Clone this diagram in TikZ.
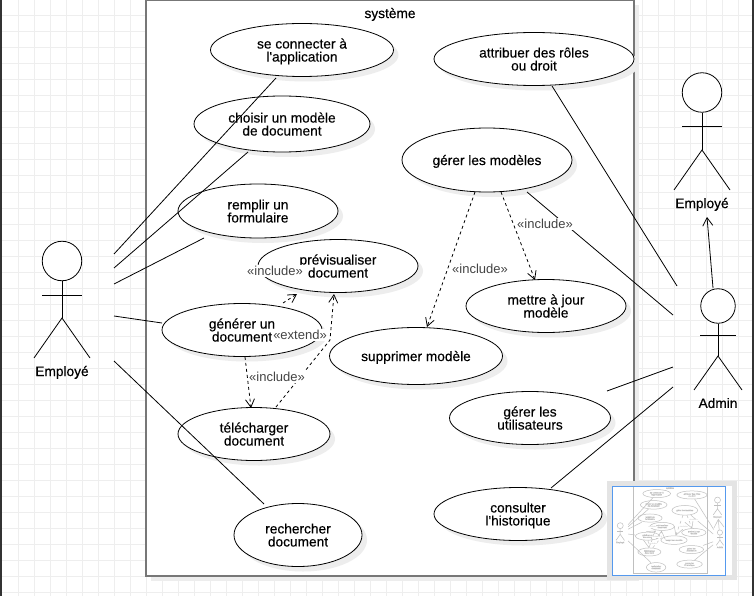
\documentclass[tikz,border=0pt]{standalone}
\usepackage{fontspec}
\setmainfont{Liberation Sans}
\newfontfamily\casefont{Liberation Sans}[FakeBold=0.35]
\usetikzlibrary{shapes, positioning, shadows, arrows.meta}

\definecolor{gridgray}{HTML}{EEEEEE}
\definecolor{boxgray}{HTML}{777777}
\definecolor{labelgray}{HTML}{444444}
\definecolor{thumbblue}{HTML}{5599EE}
\definecolor{panelgray}{HTML}{E4E4E4}
\colorlet{inkcolor}{black}
\colorlet{boxcolor}{boxgray}
\colorlet{tagcolor}{labelgray}
\newcommand{\linew}{0.8pt}
\newcommand{\boxw}{2pt}

\tikzset{
    softshadow/.style={drop shadow={shadow xshift=5pt, shadow yshift=-5pt, opacity=1, fill=black!7}},
    usecase/.style={ellipse, draw=inkcolor, fill=white, inner sep=0pt, align=center, line width=\linew,
        text=inkcolor, text depth=0pt, font=\casefont\fontsize{13.7}{13}\selectfont, softshadow},
    sysbox/.style={draw=boxcolor, fill=white, line width=\boxw, outer sep=0pt, softshadow},
    head/.style={circle, draw=inkcolor, fill=white, inner sep=0pt, line width=\linew},
    limb/.style={draw=inkcolor, line width=\linew},
    assoc/.style={draw=inkcolor, line width=\linew},
    dep/.style={draw=inkcolor, dashed, line width=\linew, -{Straight Barb[length=8pt, width=9pt]}},
    deplabel/.style={fill=white, inner xsep=0.5pt, inner ysep=1.5pt, text=tagcolor, font=\fontsize{13}{13}\selectfont},
    actorname/.style={text=inkcolor, inner sep=0pt, text depth=0pt, font=\casefont\fontsize{13.7}{13}\selectfont},
    gridline/.style={gridgray, line width=1pt},
}

% the whole sheet, drawn once full size and once in the small overview
\newcommand{\usecasesheet}{%
    \node[sysbox, minimum width=488pt, minimum height=575.5pt, anchor=north west, inner sep=0pt] (sys) at (146, 0) {};
    \node[actorname] (systitle) at (390, 13) {système};

    \node[usecase, minimum width=183pt, minimum height=53pt] (connect) at (302, 50) {se connecter à\\l'application};
    \node[usecase, minimum width=176pt, minimum height=56pt] (choose) at (282, 124) {choisir un modèle\\de document};
    \node[usecase, minimum width=160pt, minimum height=54pt] (fill) at (258, 211) {remplir un\\formulaire};
    \node[usecase, minimum width=160pt, minimum height=53pt] (preview) at (338, 266) {prévisualiser\\document};
    \node[usecase, minimum width=160pt, minimum height=53pt] (generate) at (242, 330) {générer un\\document};
    \node[usecase, minimum width=152pt, minimum height=53pt] (download) at (254, 434) {télécharger\\document};
    \node[usecase, minimum width=128pt, minimum height=63pt] (search) at (298, 535) {rechercher\\document};
    \node[usecase, minimum width=200pt, minimum height=53pt] (roles) at (534, 59) {attribuer des rôles\\ou droit};
    \node[usecase, minimum width=170pt, minimum height=64pt] (models) at (487, 160) {gérer les modèles};
    \node[usecase, minimum width=160pt, minimum height=53pt] (update) at (546, 306) {mettre à jour\\modèle};
    \node[usecase, minimum width=173pt, minimum height=57pt] (delete) at (416, 356) {supprimer modèle};
    \node[usecase, minimum width=161pt, minimum height=53pt] (users) at (530, 418) {gérer les\\utilisateurs};
    \node[usecase, minimum width=168pt, minimum height=53pt] (history) at (518, 514) {consulter\\l'historique};

    % actors
    \node[head, minimum size=39.5pt] (emp) at (62, 261) {};
    \coordinate (emphip) at (62, 318);
    \draw[limb] (emp) -- (emphip);
    \draw[limb] (42, 295) -- (82, 295);
    \draw[limb] (34, 358) -- (emphip) -- (90, 358);
    \node[actorname] (empname) at (62, 371) {Employé};

    \node[head, minimum size=39.5pt] (emptop) at (702, 92.5) {};
    \coordinate (emptophip) at (702, 150);
    \draw[limb] (emptop) -- (emptophip);
    \draw[limb] (682, 126) -- (722, 126);
    \draw[limb] (674, 190) -- (emptophip) -- (730, 190);
    \node[actorname] (emptopname) at (702, 203) {Employé};

    \node[head, minimum size=34.5pt] (admin) at (718, 306) {};
    \coordinate (adminhip) at (718, 356);
    \draw[limb] (admin) -- (adminhip);
    \draw[limb] (700, 335) -- (736, 335);
    \draw[limb] (694, 390) -- (adminhip) -- (742, 390);
    \node[actorname] (adminname) at (718, 403) {Admin};

    % free ends of the associations
    \coordinate (e1) at (114, 254);
    \coordinate (e2) at (114, 268);
    \coordinate (e3) at (114, 284);
    \coordinate (e4) at (114, 316);
    \coordinate (e5) at (114, 361);
    \coordinate (a1) at (677, 286);
    \coordinate (a2) at (673, 315);
    \coordinate (a3) at (673, 367);
    \coordinate (a4) at (673, 387);
    \coordinate (c1) at (276, 78);
    \coordinate (c2) at (248, 152);
    \coordinate (c3) at (204, 238);
    \coordinate (c4) at (162, 323);
    \coordinate (c5) at (264, 504);
    \coordinate (c6) at (552, 86);
    \coordinate (c7) at (527, 192);
    \coordinate (c8) at (607, 391);
    \coordinate (c9) at (551, 488);

    \draw[assoc] (e1) -- (c1);
    \draw[assoc] (e2) -- (c2);
    \draw[assoc] (e3) -- (c3);
    \draw[assoc] (e4) -- (c4);
    \draw[assoc] (e5) -- (c5);
    \draw[assoc] (c6) -- (a1);
    \draw[assoc] (c7) -- (a2);
    \draw[assoc] (c8) -- (a3);
    \draw[assoc] (c9) -- (a4);

    \coordinate (adm) at (713, 288);
    \coordinate (emt) at (707, 217);
    \draw[assoc, -{Straight Barb[length=8pt, width=10pt]}] (adm) -- (emt);

    % dependencies
    \coordinate (g1) at (283, 303);
    \coordinate (p1) at (297, 294);
    \coordinate (d1) at (276, 407);
    \coordinate (bend) at (330, 340);
    \coordinate (p2) at (334, 294);
    \coordinate (g2) at (245, 357);
    \coordinate (d2) at (251, 408);
    \coordinate (m1) at (475, 192);
    \coordinate (s1) at (427, 327);
    \coordinate (m2) at (501, 192);
    \coordinate (u1) at (535, 280);

    \draw[dep] (g1) -- (p1);
    \draw[dep] (d1) -- (bend) -- (p2);
    \draw[dep] (g2) -- (d2);
    \draw[dep] (m1) -- (s1);
    \draw[dep] (m2) -- (u1);

    \node[deplabel] (l1) at (275, 271) {«include»};
    \node[deplabel] (l2) at (300, 335) {«extend»};
    \node[deplabel] (l3) at (277, 377) {«include»};
    \node[deplabel] (l4) at (480, 269) {«include»};
    \node[deplabel] (l5) at (545, 224) {«include»};
}

\begin{document}
\begin{tikzpicture}[x=1pt, y=-1pt]
    \useasboundingbox (0, 0) rectangle (754, 596);

    \foreach \gx in {18, 34, ..., 754} {
        \draw[gridline] (\gx, 0) -- (\gx, 596);
    }
    \foreach \gy in {16, 32, ..., 596} {
        \draw[gridline] (2, \gy) -- (754, \gy);
    }
    \fill[black!80] (0, 0) rectangle (2, 596);
    \fill[black!80] (752, 0) rectangle (754, 596);

    \usecasesheet

    % overview panel
    \node[fill=panelgray, inner sep=0pt, minimum width=130pt, minimum height=99pt, anchor=north west] (panel) at (607, 481) {};
    \node[fill=white, inner sep=0pt, minimum width=120pt, minimum height=89pt, anchor=north west] (panelin) at (612, 486) {};
    \begin{scope}[shift={(610.8, 486)}, scale=0.152, transform shape]
        \tikzset{softshadow/.style={}}
        \colorlet{inkcolor}{black!25}
        \colorlet{boxcolor}{black!25}
        \colorlet{tagcolor}{black!25}
        \renewcommand{\linew}{0.5pt}
        \renewcommand{\boxw}{1pt}
        \usecasesheet
    \end{scope}
    \node[draw=thumbblue, line width=1pt, inner sep=0pt, outer sep=0pt, minimum width=113pt, minimum height=89pt, anchor=north west] (view) at (612.5, 486) {};
\end{tikzpicture}
\end{document}
